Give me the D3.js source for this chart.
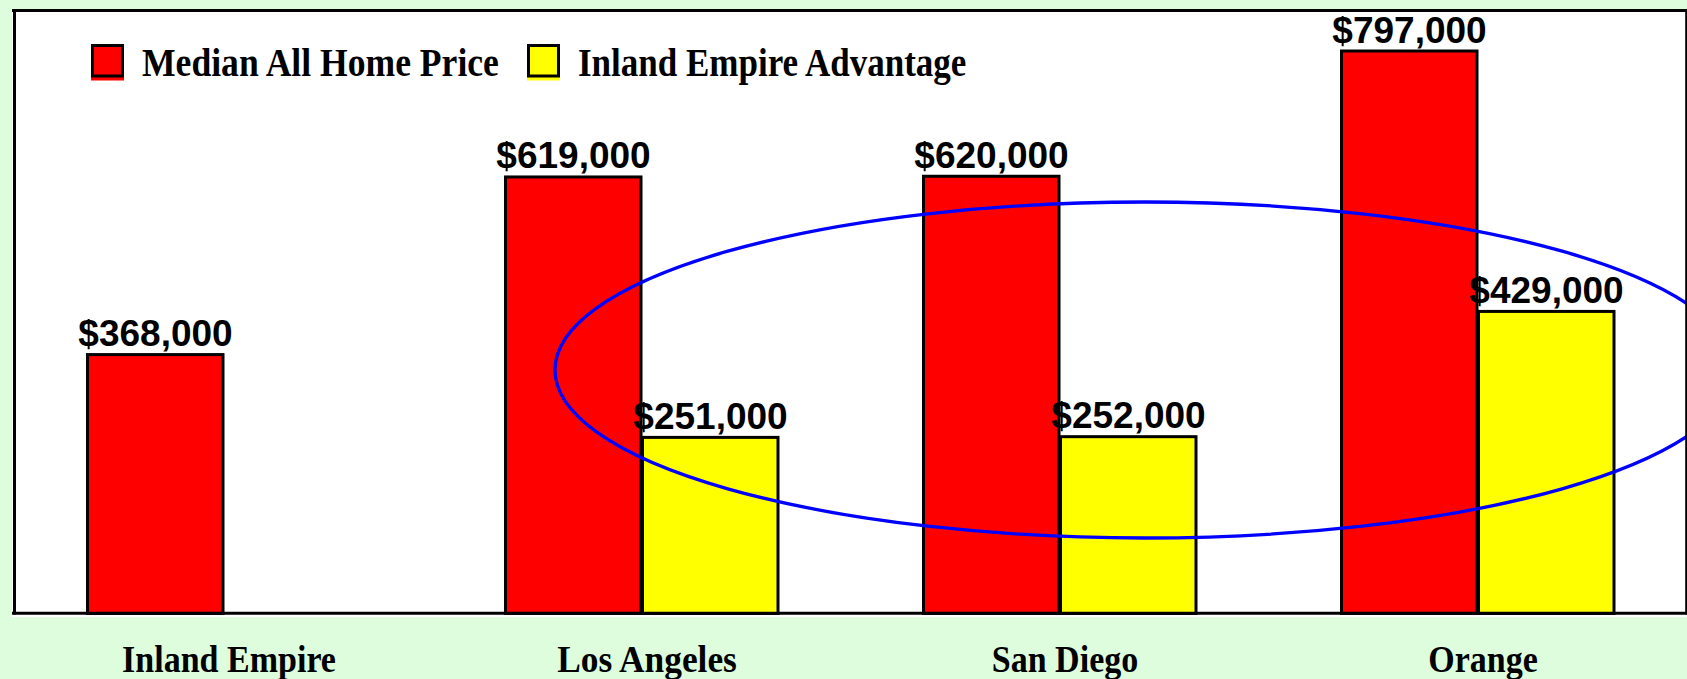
<!DOCTYPE html>
<html>
<head>
<meta charset="utf-8">
<script src="https://cdn.jsdelivr.net/npm/d3@7"></script>
<style>
html, body { margin: 0; padding: 0; background: #ddfddd; }
svg { display: block; }
</style>
</head>
<body>
<svg id="chart" width="1687" height="679"></svg>
<script>
// ---- data ----
const categories = ["Inland Empire", "Los Angeles", "San Diego", "Orange"];
const seriesNames = ["Median All Home Price", "Inland Empire Advantage"];
const medianPrice = [368000, 619000, 620000, 797000];
const advantage = [null, 251000, 252000, 429000];
const seriesColors = ["#ff0000", "#ffff00"];

const W = 1687, H = 679;
const svg = d3.select("#chart");

const frame = { left: 14, right: 1686 };

// scales
const x0 = d3.scaleBand().domain(categories)
  .range([frame.left, frame.right])
  .paddingInner(0.3445).paddingOuter(0.17225);
const x1 = d3.scaleBand().domain(seriesNames).range([0, x0.bandwidth()]);
const y = d3.scaleLinear().domain([0, 850000]).range([613.5, 12]);

// frame background
svg.append("rect").attr("x", 12).attr("y", 9).attr("width", W - 12).attr("height", 617 - 9)
  .attr("fill", "#ffffff");

const rows = categories.map((c, i) => ({
  cat: c,
  vals: [ {s: seriesNames[0], v: medianPrice[i], c: seriesColors[0]},
          {s: seriesNames[1], v: advantage[i], c: seriesColors[1]} ].filter(d => d.v != null)
}));

const g = svg.append("g");
const groups = g.selectAll("g.grp").data(rows).join("g")
  .attr("class", "grp")
  .attr("transform", d => `translate(${x0(d.cat)},0)`);

groups.selectAll("rect").data(d => d.vals).join("rect")
  .attr("x", d => x1(d.s) + 1.5)
  .attr("width", x1.bandwidth() - 1.5)
  .attr("y", d => y(d.v) + 1.5)
  .attr("height", d => y(0) - y(d.v) - 1.5)
  .attr("fill", d => d.c)
  .attr("stroke", "#000")
  .attr("stroke-width", 3);

const fmt = d3.format(",");
groups.selectAll("text.val").data(d => d.vals).join("text")
  .attr("class", "val")
  .attr("x", d => x1(d.s) + x1.bandwidth() / 2 + 1)
  .attr("y", d => y(d.v) - 7)
  .attr("text-anchor", "middle")
  .attr("font-family", "Liberation Sans, Arial, sans-serif")
  .attr("font-weight", "bold")
  .attr("font-size", 37)
  .attr("fill", "#000")
  .text(d => "$" + fmt(d.v));

// ellipse highlighting, clipped to the frame
svg.append("clipPath").attr("id", "clipFrame")
  .append("rect").attr("x", 14).attr("y", 11).attr("width", 1672).attr("height", 602);
svg.append("ellipse")
  .attr("clip-path", "url(#clipFrame)")
  .attr("cx", 1145).attr("cy", 370).attr("rx", 590).attr("ry", 168)
  .attr("fill", "none").attr("stroke", "#0000ff").attr("stroke-width", 3.3);

// frame borders
svg.append("line").attr("x1", 12).attr("x2", W).attr("y1", 10.5).attr("y2", 10.5)
  .attr("stroke", "#000").attr("stroke-width", 3);
svg.append("line").attr("x1", 14.5).attr("x2", 14.5).attr("y1", 9).attr("y2", 614.5)
  .attr("stroke", "#000").attr("stroke-width", 3);
svg.append("line").attr("x1", 1686.2).attr("x2", 1686.2).attr("y1", 9).attr("y2", 614.5)
  .attr("stroke", "#000").attr("stroke-width", 2);

// x axis (baseline + category labels)
const xAxis = d3.axisBottom(x0).tickSize(0).tickPadding(0);
const ax = svg.append("g").attr("transform", `translate(0,${y(0) - 0.3})`).call(xAxis);
ax.select(".domain").attr("stroke", "#000").attr("stroke-width", 3)
  .attr("d", `M12,0H${W}`);
const serifFont = "Liberation Serif, DejaVu Serif, serif";
ax.selectAll(".tick text")
  .attr("dy", null)
  .attr("y", 58.5)
  .attr("dx", 6)
  .attr("font-family", serifFont)
  .attr("font-weight", "bold")
  .attr("font-size", 38)
  .attr("fill", "#000")
  .each(function(d) {
    const w = this.getComputedTextLength();
    d3.select(this).attr("textLength", w * (d === "Los Angeles" ? 0.93 : 0.895))
      .attr("lengthAdjust", "spacingAndGlyphs");
  });

// legend
const legendX = [91, 527];
const leg = svg.append("g");
seriesNames.forEach((name, i) => {
  const lg = leg.append("g").attr("transform", `translate(${legendX[i]},44)`);
  lg.append("rect").attr("x", 0).attr("y", 33).attr("width", 33).attr("height", 3.5)
    .attr("fill", seriesColors[i]);
  lg.append("rect").attr("x", 1.5).attr("y", 1.5).attr("width", 30).attr("height", 30.5)
    .attr("fill", seriesColors[i]).attr("stroke", "#000").attr("stroke-width", 3);
  const t = lg.append("text").attr("x", 51).attr("y", 32)
    .attr("font-family", serifFont).attr("font-weight", "bold").attr("font-size", 40)
    .attr("fill", "#000").text(name);
  const w = t.node().getComputedTextLength();
  t.attr("textLength", w * (i === 0 ? 0.89 : 0.875)).attr("lengthAdjust", "spacingAndGlyphs");
});
</script>
</body>
</html>
